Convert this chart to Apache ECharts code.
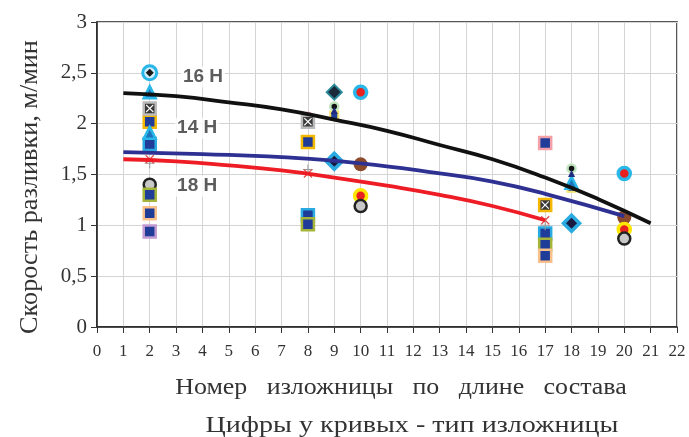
<!DOCTYPE html>
<html>
<head>
<meta charset="utf-8">
<script src="https://cdn.jsdelivr.net/npm/echarts@6/dist/echarts.min.js"></script>
<style>html,body{margin:0;padding:0;background:#fff}#c{width:689px;height:437px}</style>
</head>
<body>
<div id="c"></div>
<script>
// Fitted curves
const curve16 = [[1,2.30],[3,2.27],[5,2.21],[7,2.14],[9,2.04],[11,1.93],[13,1.79],[15,1.65],[17,1.47],[19,1.26],[21,1.02]];
const curve14 = [[1,1.72],[4,1.70],[7,1.67],[10,1.61],[13,1.51],[15,1.43],[17,1.31],[20,1.09]];
const curve18 = [[1,1.65],[3,1.63],[5,1.59],[7,1.54],[9,1.47],[11,1.39],[13,1.30],[15,1.19],[17,1.05]];

// Measured points, grouped by marker style
const pinkCircle = [[8,2.06]];
const redCyanRing = [[10,2.31],[20,1.51]];
const cyanRing = [[2,2.5]];
const diamondInRing = [[2,2.5]];
const darkDiamond = [[9,2.31]];
const cyanDiamond = [[9,1.63],[18,1.02]];
const brownCircle = [[10,1.6],[20,1.08]];
const redYellowCircle = [[10,1.29],[20,0.96]];
const grayCircle = [[2,1.4],[10,1.19],[20,0.87]];
const sqYellow = [[2,2.02],[8,1.82]];
const sqCyan = [[2,1.8],[8,1.1],[17,0.92]];
const sqOlive = [[2,1.3],[8,1.01],[17,0.81]];
const sqPeach = [[2,1.12],[17,0.70]];
const sqPurple = [[2,0.94]];
const sqPink = [[17,1.81]];
const sqSmallYellow = [[9,2.08],[18,1.37]];
const xBoxGray = [[2,2.15],[8,2.02]];
const xBoxYellow = [[17,1.2]];
const cyanTriangle = [[2,2.31],[2,1.91],[18,1.42]];
const blackDot = [[9,2.17],[18,1.56]];
const navyTriangle = [[9,2.13],[18,1.51]];
const grayStar = [[2,1.61],[8,1.55],[17,1.0]];
const redStar = [[2,1.65],[8,1.51],[17,1.05]];

// Curve labels
const labelPos = [[4.02,2.46],[3.8,1.955],[3.8,1.385]];
const labelText = ['16 Н','14 Н','18 Н'];

const xTitle = 'Номер   изложницы   по   длине   состава';
const xSubTitle = 'Цифры у кривых - тип изложницы';
const yTitle = 'Скорость разливки, м/мин';

const X_PATH = 'path://M0,2 L2,0 L10,8 L18,0 L20,2 L12,10 L20,18 L18,20 L10,12 L2,20 L0,18 L8,10 Z';
const PLUS_PATH = 'path://M9,0 L11,0 L11,9 L20,9 L20,11 L11,11 L11,20 L9,20 L9,11 L0,11 L0,9 L9,9 Z';
const NAVY = '#1f3c99';

function sc(data, symbol, size, color, border, bw, z) {
  return {type:'scatter', data:data, symbol:symbol, symbolSize:size, z:z||2,
    itemStyle:{color:color, borderColor:border||color, borderWidth:bw||0, opacity:1},
    emphasis:{disabled:true}, silent:true};
}
function ln(data, color) {
  return {type:'line', data:data, smooth:0.5, showSymbol:false, symbol:'none', z:5,
    lineStyle:{color:color, width:3.8}, silent:true};
}

const chart = echarts.init(document.getElementById('c'), null, {renderer:'canvas'});
chart.setOption({
  animation:false,
  grid:{left:97, right:12, top:22, bottom:110, show:true, borderColor:'#222', borderWidth:1.5, backgroundColor:'#fff'},
  xAxis:{type:'value', min:0, max:22, interval:1,
    axisLine:{show:true, onZero:false, lineStyle:{color:'#222', width:1.5}},
    axisTick:{show:true, inside:false, length:6, lineStyle:{color:'#333'}},
    axisLabel:{fontFamily:'Liberation Serif', fontSize:17, color:'#333', margin:16},
    splitLine:{show:true, lineStyle:{color:'#d4d4d4', width:1}}},
  yAxis:{type:'value', min:0, max:3, interval:0.5,
    axisLine:{show:true, lineStyle:{color:'#222', width:1.5}},
    axisTick:{show:true, inside:false, length:6, lineStyle:{color:'#333'}},
    axisLabel:{fontFamily:'Liberation Serif', fontSize:21, color:'#333', margin:10,
      formatter:v=>String(v).replace('.',',')},
    splitLine:{show:true, lineStyle:{color:'#d4d4d4', width:1}}},
  graphic:[
    {type:'text', x:401, y:388, scaleX:1.08, style:{text:xTitle, font:'24px "Liberation Serif"', fill:'#333', align:'center', verticalAlign:'middle'}},
    {type:'text', x:412, y:426, scaleX:1.17, style:{text:xSubTitle, font:'24px "Liberation Serif"', fill:'#333', align:'center', verticalAlign:'middle'}},
    {type:'text', x:30, y:187, rotation:Math.PI/2, scaleX:1.05, style:{text:yTitle, font:'25px "Liberation Serif"', fill:'#333', align:'center', verticalAlign:'middle'}}
  ],
  series:[
    sc(pinkCircle,'circle',12,'#f4a0a8'),
    sc(cyanRing,'circle',14,'#cfeefb','#29b6e8',3),
    sc(diamondInRing,'diamond',8,'#1a1a1a'),
    sc(redCyanRing,'circle',12,'#e8211f','#29b6e8',3.5),
    sc(darkDiamond,'diamond',15,'#1a2a3a','#2a8a9a',2),
    sc(cyanDiamond,'diamond',16,'#1a1a40','#29abe2',3.5),
    sc(brownCircle,'circle',14,'#8b4a2b'),
    sc(redYellowCircle,'circle',12,'#e8211f','#ffe600',3.5),
    sc(grayCircle,'circle',12,'#c8c8c8','#222',2.5),
    sc(sqYellow,'rect',12,NAVY,'#f5b800',2.5),
    sc(sqCyan,'rect',12,NAVY,'#29abe2',2.5),
    sc(sqOlive,'rect',12,NAVY,'#a5b53a',2.5),
    sc(sqPeach,'rect',12,NAVY,'#f9c08a',2.5),
    sc(sqPurple,'rect',12,NAVY,'#c39bd3',2.5),
    sc(sqPink,'rect',12,NAVY,'#f4a0a8',2.5),
    sc(sqSmallYellow,'rect',8,NAVY,'#f5e36a',2),
    sc(xBoxGray,'rect',12,'#3a3a3a','#bbbbbb',2.5,3),
    sc(xBoxGray,X_PATH,8,'#ffffff',null,0,3),
    sc(xBoxYellow,'rect',12,'#3a3a3a','#f5b800',2.5,3),
    sc(xBoxYellow,X_PATH,8,'#ffffff',null,0,3),
    sc(cyanTriangle,'triangle',12,'#1c75bc','#29b6e8',2.5),
    sc(blackDot,'circle',8,'#111','#bfe3bf',2.5),
    sc(navyTriangle,'triangle',7,'#1f2a80'),
    sc(grayStar,PLUS_PATH,10,'#9a9a9a'),
    sc(redStar,X_PATH,9,'#e05050'),
    ln(curve18,'#ee1c25'),
    ln(curve14,'#2e3192'),
    ln(curve16,'#111111'),
    {type:'scatter', data:labelPos, symbol:'circle', symbolSize:1, z:6, silent:true,
      itemStyle:{color:'rgba(0,0,0,0)'},
      label:{show:true, position:'inside', formatter:p=>labelText[p.dataIndex],
        fontFamily:'Liberation Sans', fontWeight:'bold', fontSize:19, color:'#333',
        backgroundColor:'#fff', padding:[1,2]}}
  ]
});
</script>
</body>
</html>
